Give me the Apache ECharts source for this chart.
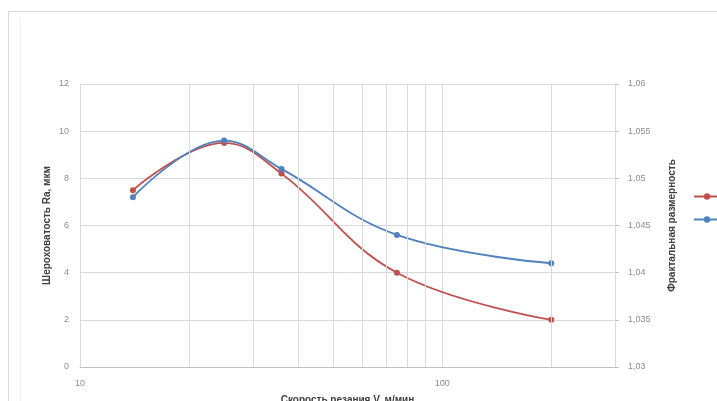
<!DOCTYPE html>
<html>
<head>
<meta charset="utf-8">
<script src="https://cdn.jsdelivr.net/npm/echarts@6/dist/echarts.min.js"></script>
<style>
  html, body { margin: 0; padding: 0; background: #ffffff; }
  #chart { width: 717px; height: 401px; }
</style>
</head>
<body>
<div id="chart"></div>
<script>
// Cutting speed V, m/min (log scale)
const speeds = [14, 25, 36, 75, 200];
// Surface roughness Ra, µm (left axis)
const roughness = [7.5, 9.5, 8.2, 4.0, 2.0];
// Fractal dimension (right axis)
const fractalDim = [1.048, 1.054, 1.051, 1.044, 1.041];

// Minor vertical grid positions on the logarithmic speed axis
const minorGrid = [20, 30, 40, 50, 60, 70, 80, 90, 200, 300];
// Labelled decades on the speed axis
const speedLabels = [10, 100];

const xRange = [10, 300];
const raRange = [0, 12, 2];
const fdRange = [1.03, 1.06, 0.005];

const seriesNames = ['Шероховатость Ra', 'Фрактальная размерность'];
const colors = ['#c0504d', '#4f81bd'];

const FONT = '"Liberation Sans", "DejaVu Sans", sans-serif';
const tickLabel = { color: '#8c8c8c', fontSize: 9, fontFamily: FONT };
const titleStyle = { color: '#404040', fontSize: 10, fontWeight: 'bold', fontFamily: FONT };

const chart = echarts.init(document.getElementById('chart'), null, { renderer: 'canvas' });

chart.setOption({
  backgroundColor: '#ffffff',
  animation: false,
  graphic: [
    { type: 'rect', shape: { x: 8.5, y: 11.5, width: 760, height: 420 },
      style: { fill: 'none', stroke: '#d9d9d9', lineWidth: 1 }, z: -10 },
    { type: 'line', shape: { x1: 20.5, y1: 17, x2: 20.5, y2: 401 },
      style: { stroke: '#f0f0f0', lineWidth: 1 }, z: -10 }
  ],
  grid: {
    left: 80, right: 102, top: 84, bottom: 34,
    containLabel: false,
    outerBoundsMode: 'none'
  },
  legend: {
    orient: 'vertical',
    left: 688,
    top: 187,
    itemWidth: 26,
    itemHeight: 8,
    itemGap: 14,
    textStyle: { color: '#595959', fontSize: 9, fontFamily: FONT },
    data: seriesNames
  },
  xAxis: {
    type: 'log',
    logBase: 10,
    min: xRange[0],
    max: xRange[1],
    name: 'Скорость резания V, м/мин',
    nameLocation: 'middle',
    nameGap: 28,
    nameMoveOverlap: false,
    nameTextStyle: titleStyle,
    axisLine: { show: true, lineStyle: { color: '#bfbfbf' } },
    axisTick: { show: false },
    axisLabel: Object.assign({
      margin: 12,
      showMaxLabel: false,
      formatter: v => (speedLabels.indexOf(Math.round(v)) >= 0 ? String(Math.round(v)) : '')
    }, tickLabel),
    splitLine: { show: true, lineStyle: { color: '#d9d9d9', width: 1 } }
  },
  yAxis: [
    {
      type: 'value',
      min: raRange[0],
      max: raRange[1],
      interval: raRange[2],
      name: 'Шероховатость Ra, мкм',
      nameLocation: 'middle',
      nameGap: 28,
      nameMoveOverlap: false,
      nameTextStyle: titleStyle,
      axisLine: { show: false },
      axisTick: { show: false },
      axisLabel: Object.assign({ margin: 11 }, tickLabel),
      splitLine: { show: true, lineStyle: { color: '#d9d9d9', width: 1 } }
    },
    {
      type: 'value',
      position: 'right',
      min: fdRange[0],
      max: fdRange[1],
      interval: fdRange[2],
      name: 'Фрактальная размерность',
      nameLocation: 'middle',
      nameGap: 52,
      nameMoveOverlap: false,
      nameTextStyle: titleStyle,
      axisLine: { show: true, lineStyle: { color: '#bfbfbf' } },
      axisTick: { show: true, length: 4, inside: false, lineStyle: { color: '#bfbfbf' } },
      axisLabel: Object.assign({
        margin: 13,
        formatter: v => String(parseFloat(v.toFixed(3))).replace('.', ',')
      }, tickLabel),
      splitLine: { show: false }
    }
  ],
  series: [
    {
      name: '__grid',
      type: 'line',
      data: [],
      silent: true,
      markLine: {
        silent: true,
        symbol: 'none',
        label: { show: false },
        lineStyle: { color: '#d9d9d9', width: 1, type: 'solid' },
        data: minorGrid.map(v => ({ xAxis: v }))
      },
      z: 0
    },
    {
      name: seriesNames[0],
      type: 'line',
      yAxisIndex: 0,
      data: speeds.map((s, i) => [s, roughness[i]]),
      smooth: 0.4,
      symbol: 'circle',
      symbolSize: 6,
      color: colors[0],
      lineStyle: { width: 1.8, color: colors[0] },
      itemStyle: { color: colors[0] },
      z: 3
    },
    {
      name: seriesNames[1],
      type: 'line',
      yAxisIndex: 1,
      data: speeds.map((s, i) => [s, fractalDim[i]]),
      smooth: 0.4,
      symbol: 'circle',
      symbolSize: 6,
      color: colors[1],
      lineStyle: { width: 1.8, color: colors[1] },
      itemStyle: { color: colors[1] },
      z: 4
    }
  ]
});
</script>
</body>
</html>
